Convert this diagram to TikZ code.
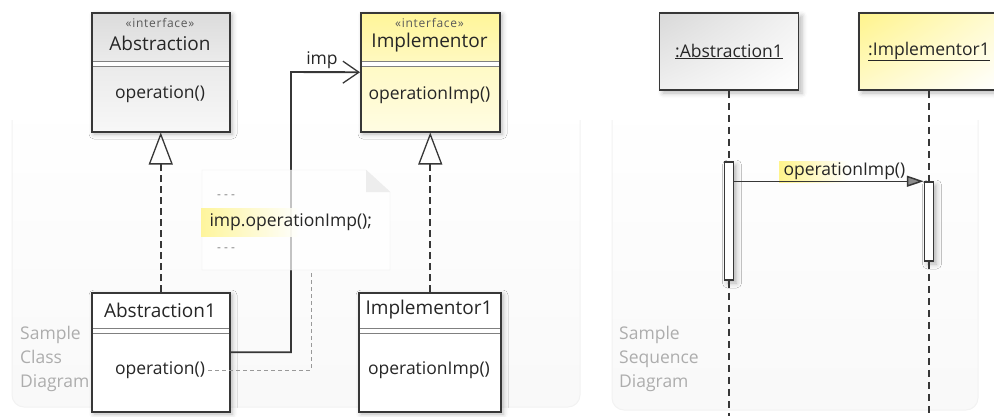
\documentclass[tikz,border=0pt]{standalone}
\usepackage{fontspec}
\setmainfont{Open Sans}
\usetikzlibrary{arrows.meta,positioning,shadows.blur,shadings}

\definecolor{umlyellow}{RGB}{255,244,140}
\definecolor{umlline}{RGB}{55,55,55}

\tikzset{
  boxline/.style={draw=umlline, line width=1.5pt, inner sep=0pt},
  sepline/.style={draw=black!50, line width=0.9pt},
  boxshadow/.style={fill=white, blur shadow={shadow xshift=3pt, shadow yshift=-3pt, shadow blur radius=5pt, shadow opacity=28}},
  stereo/.style={font=\fontsize{12}{12}\addfontfeature{LetterSpace=6}, text=black!65},
  clsname/.style={font=\fontsize{19}{21}\selectfont, text=black!85},
  oper/.style={font=\fontsize{17.5}{20}\selectfont, text=black!85},
  dots/.style={font=\fontsize{12}{14}\selectfont, text=black!50},
  paneltext/.style={font=\fontsize{17.5}{24}\selectfont, text=black!32, align=left, anchor=west, inner sep=0pt},
  grayhead/.style={top color=black!14, bottom color=black!8},
  graybody/.style={top color=black!8, bottom color=black!3},
  yellowhead/.style={top color=umlyellow!90, bottom color=umlyellow!55},
  yellowbody/.style={top color=umlyellow!50, bottom color=umlyellow!25},
  realize/.style={draw=umlline, line width=1.6pt, dash pattern=on 7pt off 4pt,
    -{Triangle[open, length=32pt, width=24pt, line width=1.3pt]}},
  assoc/.style={draw=umlline, line width=1.9pt, -{Straight Barb[length=16pt, width=22pt, line width=1.3pt]}},
  noteline/.style={draw=black!40, line width=1pt, dash pattern=on 4pt off 3pt},
  lifeline/.style={draw=umlline, line width=1.9pt, dash pattern=on 7pt off 5pt},
  actbar/.style={boxline, minimum width=9pt},
  message/.style={draw=umlline, line width=1.5pt, -{Triangle[length=17pt, width=11pt, fill=black!45]}},
}

\begin{document}
\begin{tikzpicture}[x=1pt, y=-1pt]
  \useasboundingbox (0,0) rectangle (994,416);

  % panels behind the two diagrams
  \shade[top color=white, bottom color=black!2.5, rounded corners=12pt] (12,100) rectangle (580,407);
  \draw[black!5, line width=1pt, rounded corners=12pt] (12,120) -- (12,407) -- (580,407) -- (580,120);
  \shade[top color=white, bottom color=black!2.5, rounded corners=12pt] (612,100) rectangle (978,410);
  \draw[black!5, line width=1pt, rounded corners=12pt] (612,120) -- (612,410) -- (978,410) -- (978,120);

  \node[paneltext] (clsnote) at (20,359) {Sample\\Class\\Diagram};
  \node[paneltext] (seqnote) at (619,359) {Sample\\Sequence\\Diagram};

  % Abstraction
  \path[boxshadow] (91,12) rectangle (229,131);
  \shade[grayhead] (91,12) rectangle (229,61);
  \shade[graybody] (91,66) rectangle (229,131);
  \draw[sepline] (91,61) -- (229,61) (91,66) -- (229,66);
  \node[boxline, minimum width=138pt, minimum height=119pt, anchor=north west] (abs) at (91,12) {};
  \node[stereo] (absst) at (160,23) {«interface»};
  \node[clsname] (absname) at (160,43) {Abstraction};
  \node[oper] (absop) at (160,94) {operation()};

  % Implementor
  \path[boxshadow] (360,12) rectangle (499,131);
  \shade[yellowhead] (360,12) rectangle (499,61);
  \shade[yellowbody] (360,66) rectangle (499,131);
  \draw[sepline] (360,61) -- (499,61) (360,66) -- (499,66);
  \node[boxline, minimum width=139pt, minimum height=119pt, anchor=north west] (imp) at (360,12) {};
  \node[stereo] (impst) at (429.5,23) {«interface»};
  \node[clsname] (impname) at (429.5,43) {Implementor};
  \node[oper] (impop) at (429.5,95) {operationImp()};

  % Abstraction1
  \path[boxshadow] (91,292) rectangle (229,411);
  \draw[sepline] (91,328) -- (229,328) (91,333) -- (229,333);
  \node[boxline, minimum width=138pt, minimum height=119pt, anchor=north west] (abs1) at (91,292) {};
  \node[clsname] (abs1name) at (160,310) {Abstraction1};
  \node[oper] (abs1op) at (160,370) {operation()};

  % Implementor1
  \path[boxshadow] (358,292) rectangle (500,411);
  \draw[sepline] (358,328) -- (500,328) (358,333) -- (500,333);
  \node[boxline, minimum width=142pt, minimum height=119pt, anchor=north west] (imp1) at (358,292) {};
  \node[clsname] (imp1name) at (429,310) {Implementor1};
  \node[oper] (imp1op) at (429,370) {operationImp()};

  \draw[realize] (abs1) -- (abs);
  \draw[realize] (imp.south |- imp1.north) -- (imp.south);

  \coordinate (bend) at (291,72);
  \draw[assoc] (abs1.east) -| (bend) -- (imp.west);
  \node[oper] (implbl) at (322,60) {imp};

  % note on operation()
  \fill[white, fill opacity=0.7, draw=black!8] (202,170) -- (366,170) -- (390,192) -- (390,270) -- (202,270) -- cycle;
  \fill[black!7] (366,170) -- (366,192) -- (390,192) -- cycle;
  \shade[left color=umlyellow, right color=white, opacity=0.85] (201,208) rectangle (300,236);
  \node[dots] (notetop) at (226,197) {- - -};
  \node[oper, anchor=west] (notecode) at (206,222) {imp.operationImp();};
  \node[dots] (notebot) at (226,250) {- - -};
  \coordinate (notefoot) at (311,270);
  \draw[noteline] (abs1op.east) -| (notefoot);

  % sequence diagram
  \path[boxshadow] (660,13) rectangle (799,90);
  \shade[upper left=black!15, upper right=black!5, lower left=black!6, lower right=white] (660,13) rectangle (799,90);
  \node[boxline, oper, minimum width=139pt, minimum height=77pt] (sabs) at (729,51.5) {\underline{:Abstraction1}};

  \path[boxshadow] (859,13) rectangle (999,90);
  \shade[upper left=umlyellow, upper right=umlyellow!40, lower left=umlyellow!45, lower right=white] (859,13) rectangle (999,90);
  \node[boxline, oper, minimum width=140pt, minimum height=77pt] (simp) at (929,51.5) {\underline{:Implementor1}};

  \node[actbar, boxshadow, minimum height=118pt] (sact1) at (729,221) {};
  \node[actbar, boxshadow, minimum height=79pt] (sact2) at (929,221.5) {};

  \coordinate (sabsend) at (729,416);
  \coordinate (simpend) at (929,416);
  \draw[lifeline] (sabs) -- (sact1);
  \draw[lifeline] (sact1) -- (sabsend);
  \draw[lifeline] (simp) -- (sact2);
  \draw[lifeline] (sact2) -- (simpend);

  \shade[left color=umlyellow, right color=white] (779,161) rectangle (850,182);
  \node[oper, anchor=west] (msglbl) at (780,171) {operationImp()};
  \draw[message] (sact1.east |- sact2.north) -- (sact2.north west);
\end{tikzpicture}
\end{document}
